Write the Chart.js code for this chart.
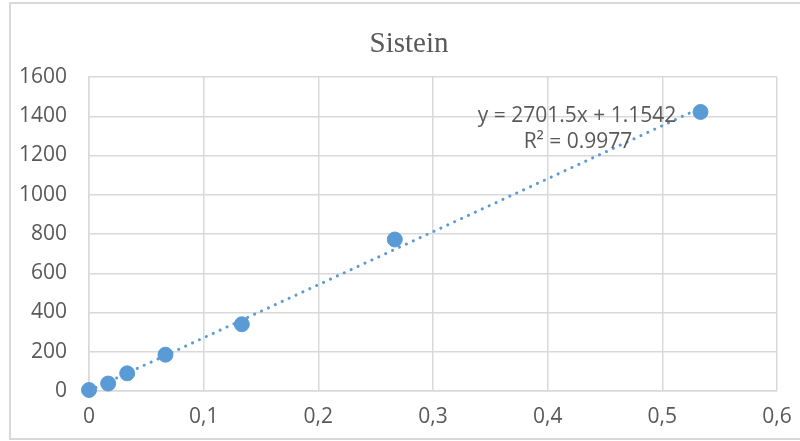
<!DOCTYPE html>
<html lang="en">
<head>
    <meta charset="UTF-8">
    <title>Sistein</title>
    <script src="https://cdn.jsdelivr.net/npm/chart.js"></script>
    <style>
        html, body { margin: 0; padding: 0; background: #fff; }
        #wrap { width: 800px; height: 441px; }
    </style>
</head>
<body>
    <div id="wrap"><canvas id="myChart" width="800" height="441"></canvas></div>
    <script>
        // concentration (x) and response (y)
        const xValues = [0, 0.0167, 0.0333, 0.0667, 0.1333, 0.2667, 0.5333];
        const yValues = [5, 38, 90, 185, 340, 772, 1422];

        // trendline as printed on the chart
        const slope = 2701.5;
        const intercept = 1.1542;
        const rSquared = 0.9977;

        const chartTitle = "Sistein";
        const eqText = "y = " + slope + "x + " + intercept;
        const r2Text = "R\u00b2 = " + rSquared;

        const gray = "#595959";
        const gridColor = "#d9d9d9";
        const blue = "#5b9bd5";

        const points = xValues.map((x, i) => ({ x: x, y: yValues[i] }));
        const xFirst = xValues[0], xLast = xValues[xValues.length - 1];
        const trend = [
            { x: xFirst, y: slope * xFirst + intercept },
            { x: xLast, y: slope * xLast + intercept }
        ];

        // title, equation text and outer frame
        const extras = {
            id: "extras",
            beforeDraw(chart) {
                const c = chart.ctx;
                c.save();
                c.strokeStyle = gridColor;
                c.lineWidth = 2;
                c.strokeRect(10, 3, 800, 436);
                c.restore();
            },
            afterDraw(chart) {
                const c = chart.ctx;
                c.save();
                c.fillStyle = gray;
                c.textAlign = "center";
                c.textBaseline = "alphabetic";
                c.font = "29px 'Liberation Serif'";
                c.fillText(chartTitle, 409, 52);
                c.font = "21px 'Open Sans'";
                c.fillText(eqText, 577, 122);
                c.fillText(r2Text, 578, 148);
                c.restore();
            }
        };

        const tickFont = { family: "Open Sans", size: 21 };

        const ctx = document.getElementById("myChart").getContext("2d");
        window.myChart = new Chart(ctx, {
            type: "scatter",
            data: {
                datasets: [{
                    label: "Sistein",
                    data: points,
                    backgroundColor: blue,
                    borderColor: blue,
                    pointRadius: 7.5,
                    pointHoverRadius: 7.5,
                    clip: false,
                    order: 1
                }, {
                    label: "Trend",
                    type: "line",
                    data: trend,
                    showLine: true,
                    borderColor: blue,
                    borderWidth: 3,
                    borderDash: [0.1, 7.5],
                    borderCapStyle: "round",
                    pointRadius: 0,
                    fill: false,
                    clip: false,
                    order: 2
                }]
            },
            options: {
                responsive: false,
                animation: false,
                layout: { padding: { left: 10, right: 23, top: 77, bottom: 0 } },
                plugins: {
                    legend: { display: false },
                    tooltip: { enabled: false }
                },
                scales: {
                    x: {
                        type: "linear",
                        min: 0,
                        max: 0.6,
                        ticks: {
                            stepSize: 0.1,
                            color: gray,
                            padding: 13,
                            font: tickFont,
                            callback: v => v === 0 ? "0" : v.toFixed(1).replace(".", ",")
                        },
                        grid: { color: gridColor, lineWidth: 1.5, drawTicks: false },
                        border: { color: gridColor, width: 1.5 },
                        afterFit: s => { s.height = 50; s.paddingRight = 0; s.paddingLeft = 0; }
                    },
                    y: {
                        min: 0,
                        max: 1600,
                        ticks: {
                            stepSize: 200,
                            color: gray,
                            padding: 22,
                            font: tickFont,
                            callback: v => String(v)
                        },
                        grid: { color: gridColor, lineWidth: 1.5, drawTicks: false },
                        border: { color: gridColor, width: 1.5 },
                        afterFit: s => { s.width = 79; }
                    }
                }
            },
            plugins: [extras]
        });
    </script>
</body>
</html>
